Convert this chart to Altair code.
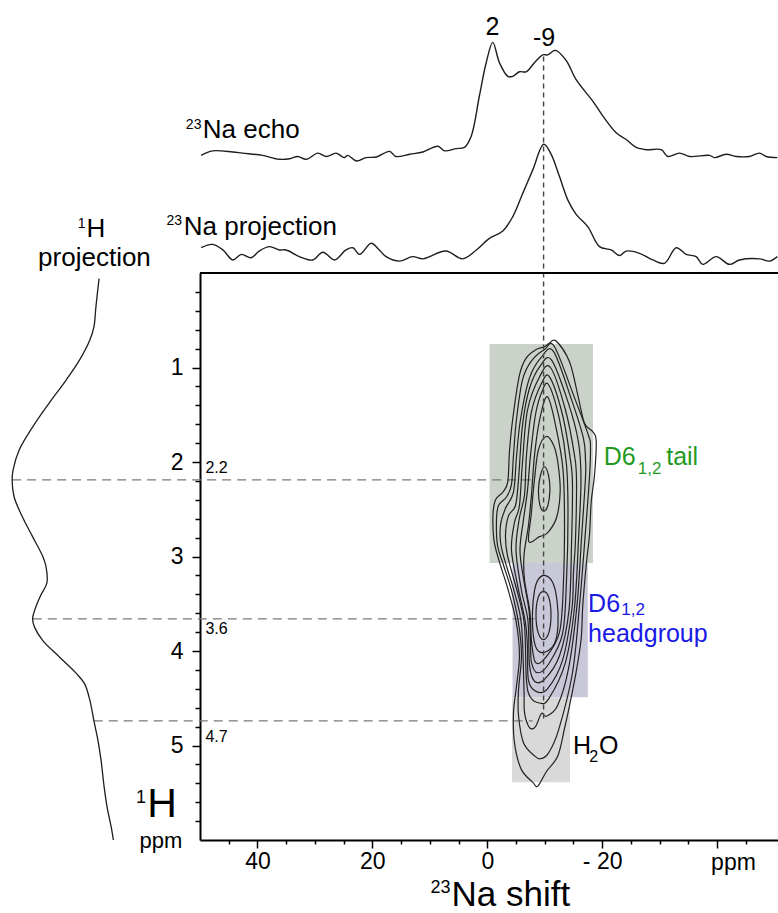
import altair as alt
import pandas as pd

FONT = "Liberation Sans"

# ---------------- data ----------------
# 23Na echo spectrum: chemical shift (ppm) and normalised intensity
echo_ppm = [49.8, 47.8, 44.3, 42.6, 39.1, 36.2, 34.4, 33.0, 31.5, 29.5, 28.0, 26.3, 24.9, 24.3, 22.8,
            21.1, 19.3, 17.0, 15.9, 13.5, 11.2, 8.6, 7.45, 5.4, 4.0, 2.8, 1.36, 0.19, -0.96, -2.12,
            -3.57, -4.44, -5.6, -6.77, -8.2, -9.66, -10.53, -11.87, -13.73, -15.47, -18.36, -20.1,
            -22.44, -24.18, -25.92, -27.66, -30.27, -31.42, -33.46, -35.2, -38.68, -39.55, -41.58,
            -43.32, -45.64, -47.38, -48.55, -50.5]
echo_int = [0.00, 0.04, 0.03, 0.02, 0.00, -0.035, -0.03, -0.01, -0.035, 0.02, -0.01, 0.02, -0.02, 0.00,
            -0.05, -0.02, -0.015, 0.035, -0.01, 0.01, 0.03, 0.08, 0.04, 0.06, 0.07, 0.17, 0.53, 0.82,
            1.00, 0.82, 0.70, 0.70, 0.74, 0.74, 0.82, 0.89, 0.89, 0.93, 0.84, 0.67, 0.48, 0.35, 0.20,
            0.14, 0.07, 0.05, 0.05, -0.01, 0.02, -0.01, 0.00, -0.02, 0.01, -0.01, -0.01, 0.02, -0.01, -0.02]

# 23Na projection of the 2D spectrum
proj_ppm = [49.8, 47.8, 46.0, 44.3, 42.8, 41.1, 39.7, 37.9, 36.2, 35.0, 32.7, 30.4, 28.6, 26.6, 24.6,
            23.4, 22.2, 20.2, 18.8, 17.6, 15.3, 13.0, 11.2, 7.2, 4.3, 1.9, -0.26, -2.7, -4.44, -6.18,
            -7.92, -9.83, -11.12, -12.57, -14.01, -15.47, -17.49, -19.53, -21.57, -23.01, -24.18,
            -26.49, -28.81, -30.84, -32.88, -34.62, -36.36, -37.51, -39.84, -42.16, -43.9, -47.38,
            -49.12, -50.5]
proj_int = [0.07, 0.10, 0.05, -0.04, 0.01, -0.02, 0.04, 0.08, 0.05, 0.05, -0.01, -0.04, 0.03, -0.04,
            0.05, 0.07, 0.01, 0.11, 0.05, -0.01, -0.05, -0.01, -0.03, 0.04, -0.03, 0.05, 0.15, 0.22,
            0.35, 0.56, 0.77, 1.00, 0.91, 0.71, 0.50, 0.37, 0.26, 0.08, 0.05, 0.00, 0.04, 0.02, -0.04,
            -0.07, 0.07, 0.01, -0.01, -0.08, -0.01, -0.08, -0.04, -0.03, -0.05, -0.01]

# 1H projection: 1H shift (ppm) and normalised intensity
h_ppm = [0.06, 0.35, 0.57, 0.71, 0.92, 1.13, 1.38, 1.63, 1.87, 2.08, 2.19, 2.37, 2.58, 2.79, 3.00,
         3.10, 3.28, 3.41, 3.57, 3.66, 3.75, 3.89, 4.06, 4.24, 4.35, 4.52, 4.74, 4.95, 5.16, 5.44,
         5.66, 5.87, 6.0]
h_int = [0.15, 0.18, 0.20, 0.24, 0.34, 0.47, 0.64, 0.80, 0.93, 0.99, 1.00, 0.98, 0.90, 0.80, 0.70,
         0.67, 0.66, 0.72, 0.78, 0.80, 0.78, 0.70, 0.54, 0.37, 0.29, 0.24, 0.20, 0.16, 0.13, 0.10,
         0.07, 0.03, 0.01]

# marked 1H positions, their labels and the extent of the dashed guides (23Na ppm)
h_marks = [2.19, 3.66, 4.74]
h_mark_labels = ["2.2", "3.6", "4.7"]
h_mark_from = [82.7, 79.1, 68.5]
h_mark_to = [-8.6, -8.2, -7.9]
# marked 23Na position and the extent of its guide (1H ppm)
na_mark = -9.8
na_mark_from = -2.29
na_mark_to = 4.74

# assignment regions (23Na ppm range, 1H ppm range)
region_names = ["D6 tail", "D6 headgroup", "H2O"]
region_na1 = [-0.4, -4.4, -4.3]
region_na2 = [-18.4, -17.5, -14.4]
region_h1 = [0.75, 3.07, 4.49]
region_h2 = [3.07, 4.49, 5.39]
region_fill = ["#cad2c9", "#c8c8d9", "#d9d9d9"]

# 2D contour lines (23Na ppm, 1H ppm)
c1a_x = [-9.96, -10.65, -10.9, -10.55, -9.87, -9.17, -8.91, -9.26]
c1a_y = [2.05, 2.14, 2.30, 2.46, 2.52, 2.46, 2.30, 2.14]
c1b_x = [-9.78, -10.74, -11.09, -10.74, -9.78, -8.83, -8.48, -8.83]
c1b_y = [3.37, 3.44, 3.62, 3.80, 3.88, 3.80, 3.62, 3.44]
c2a_x = [-10.25, -11.52, -12.27, -12.69, -12.05, -10.48, -9.09, -7.22, -7.64, -8.22, -8.91]
c2a_y = [1.73, 1.82, 2.00, 2.31, 2.59, 2.75, 2.79, 2.84, 2.56, 2.18, 1.87]
c2b_x = [-9.96, -11.35, -12.13, -12.31, -11.70, -10.13, -8.74, -8.04, -7.87, -8.22, -8.91]
c2b_y = [3.20, 3.27, 3.46, 3.73, 3.92, 4.01, 3.99, 3.85, 3.59, 3.36, 3.24]
c3_x = [-10.48, -12.05, -13.18, -13.44, -13.26, -12.57, -10.13, -8.39, -7.69, -7.43, -6.48, -6.39,
        -7.17, -7.69, -8.22, -9.09]
c3_y = [1.31, 1.66, 2.08, 2.59, 3.27, 3.80, 4.07, 4.12, 3.89, 3.59, 3.25, 2.99, 2.67, 2.35, 1.93, 1.56]
c4_x = [-10.65, -12.57, -13.79, -14.05, -13.79, -13.09, -10.65, -8.74, -7.69, -7.52, -7.26, -6.30,
        -5.69, -6.30, -7.00, -7.52, -8.39, -9.43]
c4_y = [1.18, 1.55, 2.03, 2.56, 3.25, 3.82, 4.14, 4.23, 4.12, 3.89, 3.57, 3.23, 2.93, 2.61, 2.30,
        1.93, 1.50, 1.27]
c5_x = [-10.83, -13.09, -14.48, -14.83, -14.66, -14.22, -12.57, -9.96, -8.22, -7.35, -7.08, -5.95,
        -5.00, -5.60, -6.48, -6.82, -7.69, -9.43]
c5_y = [1.10, 1.50, 1.98, 2.24, 2.88, 3.57, 4.05, 4.30, 4.32, 4.15, 3.68, 3.36, 2.93, 2.59, 2.35,
        1.93, 1.47, 1.17]
c6_x = [-11.00, -13.61, -15.18, -15.53, -15.35, -15.00, -14.74, -13.09, -10.48, -8.56, -7.17, -7.00,
        -6.65, -5.26, -4.21, -4.73, -5.60, -6.13, -7.00, -9.09]
c6_y = [1.00, 1.45, 1.93, 2.19, 2.83, 3.17, 3.55, 4.10, 4.40, 4.43, 4.31, 3.97, 3.70, 3.30, 2.93,
        2.64, 2.46, 2.00, 1.45, 1.10]
c7_x = [-11.17, -14.13, -15.87, -16.31, -15.87, -15.18, -13.61, -10.65, -9.09, -7.52, -6.82, -6.48,
        -5.43, -3.52, -3.17, -3.69, -4.91, -5.43, -6.13, -7.35, -9.26]
c7_y = [0.92, 1.38, 1.79, 2.19, 2.83, 3.54, 4.12, 4.51, 4.55, 4.49, 4.31, 3.73, 3.42, 2.99, 2.77,
        2.57, 2.46, 2.19, 1.61, 1.22, 0.98]
c8_x = [-11.52, -14.66, -16.74, -17.09, -17.09, -16.40, -15.61, -14.13, -12.22, -10.30, -9.43, -8.39,
        -7.35, -6.48, -6.39, -5.95, -4.73, -2.47, -2.30, -3.17, -4.56, -5.08, -5.78, -7.35, -9.43]
c8_y = [0.83, 1.34, 1.75, 1.98, 2.17, 2.81, 3.52, 4.19, 4.58, 4.69, 4.66, 4.80, 4.81, 4.65, 4.40,
        3.72, 3.38, 2.91, 2.67, 2.49, 2.32, 1.95, 1.55, 1.11, 0.89]
c9_x = [-11.70, -15.18, -17.62, -17.96, -17.79, -17.01, -16.05, -14.83, -12.39, -10.65, -9.26, -8.22,
        -6.30, -5.43, -5.43, -5.95, -5.43, -4.21, -2.82, -1.78, -1.60, -1.95, -3.34, -4.21, -4.56,
        -5.08, -6.13, -7.69, -9.96]
c9_y = [0.78, 1.32, 1.72, 1.84, 2.16, 2.80, 3.52, 4.23, 4.84, 5.08, 5.14, 5.11, 4.97, 4.68, 4.42,
        4.05, 3.70, 3.36, 3.09, 2.88, 2.62, 2.46, 2.37, 2.24, 1.93, 1.55, 1.13, 0.93, 0.81]
c10_x = [-11.99, -14.31, -15.75, -16.92, -18.36, -18.96, -18.66, -18.09, -17.79, -17.22, -16.62,
         -16.34, -15.47, -14.31, -13.44, -12.27, -10.25, -8.79, -7.92, -5.90, -4.73, -4.56, -5.03,
         -5.60, -5.03, -3.57, -2.12, -1.17, -0.99, -1.43, -2.70, -3.57, -3.86, -4.44, -5.60, -6.77,
         -8.51, -9.96, -10.83]
c10_y = [0.72, 0.94, 1.29, 1.59, 1.68, 1.78, 2.14, 2.42, 2.77, 3.09, 3.52, 3.87, 4.22, 4.58, 4.82,
         5.11, 5.28, 5.43, 5.39, 5.25, 4.97, 4.65, 4.40, 4.05, 3.69, 3.34, 3.06, 2.83, 2.56, 2.40,
         2.32, 2.21, 1.89, 1.54, 1.08, 0.90, 0.81, 0.78, 0.74]

# axis ticks
x_major = [40, 20, 0, -20, -40]
x_minor = [45, 35, 30, 25, 15, 10, 5, -5, -10, -15, -25, -30, -35, -45]
y_major = [1, 2, 3, 4, 5]
y_minor = [0.2, 0.4, 0.6, 0.8, 1.2, 1.4, 1.6, 1.8, 2.2, 2.4, 2.6, 2.8, 3.2, 3.4, 3.6, 3.8,
           4.2, 4.4, 4.6, 4.8, 5.2, 5.4, 5.6, 5.8]

# ---------------- tables ----------------
echo_df = pd.DataFrame({"ppm": echo_ppm, "I": echo_int})
proj_df = pd.DataFrame({"ppm": proj_ppm, "I": proj_int})
h_df = pd.DataFrame({"h": h_ppm, "I": h_int})
hl_df = pd.DataFrame({"y": h_marks, "x1": h_mark_from, "x2": h_mark_to})
vl_df = pd.DataFrame({"x": [na_mark], "y1": [na_mark_from], "y2": [na_mark_to]})
box_df = pd.DataFrame({"name": region_names, "x1": region_na1, "x2": region_na2,
                       "y1": region_h1, "y2": region_h2, "fill": region_fill})
contour_sets = [("1a", c1a_x, c1a_y), ("1b", c1b_x, c1b_y), ("2a", c2a_x, c2a_y),
                ("2b", c2b_x, c2b_y), ("3", c3_x, c3_y), ("4", c4_x, c4_y), ("5", c5_x, c5_y),
                ("6", c6_x, c6_y), ("7", c7_x, c7_y), ("8", c8_x, c8_y), ("9", c9_x, c9_y),
                ("10", c10_x, c10_y)]
rows = []
for cid, xs_, ys_ in contour_sets:
    for i, (a, b) in enumerate(zip(xs_, ys_)):
        rows.append({"cid": cid, "i": i, "x": a, "y": b})
cont_df = pd.DataFrame(rows)

# text annotations: text, 23Na ppm, 1H ppm, font size, colour, alignment
BLACK, GREEN, BLUE = "#000000", "#1f9a1f", "#1a1ae6"
ann = [
    ("2", -0.89, -2.517, 25, BLACK, "center"),
    ("-9", -9.89, -2.401, 25, BLACK, "center"),
    ("23", 49.75, -1.521, 14, BLACK, "right"),
    ("Na echo", 49.52, -1.433, 26, BLACK, "left"),
    ("23", 53.14, -0.503, 14, BLACK, "right"),
    ("Na projection", 52.83, -0.407, 26, BLACK, "left"),
    ("1", 69.94, -0.481, 14, BLACK, "right"),
    ("H", 69.77, -0.386, 26, BLACK, "left"),
    ("projection", 68.37, -0.071, 26, BLACK, "center"),
    ("D6", -20.28, 2.032, 25, GREEN, "left"),
    ("1,2", -26.20, 2.127, 17, GREEN, "left"),
    ("tail", -31.14, 2.032, 25, GREEN, "left"),
    ("D6", -17.55, 3.587, 25, BLUE, "left"),
    ("1,2", -23.31, 3.615, 17, BLUE, "left"),
    ("headgroup", -17.55, 3.9, 25, BLUE, "left"),
    ("H", -14.9, 5.085, 25, BLACK, "left"),
    ("2", -17.75, 5.178, 16, BLACK, "left"),
    ("O", -19.45, 5.085, 25, BLACK, "left"),
    (h_mark_labels[0], 49.05, 2.112, 16, BLACK, "left"),
    (h_mark_labels[1], 49.05, 3.824, 16, BLACK, "left"),
    (h_mark_labels[2], 49.05, 4.966, 16, BLACK, "left"),
    ("23", 6.41, 6.56, 18, BLACK, "right"),
    ("Na shift", 6.23, 6.698, 35, BLACK, "left"),
    ("1", 59.4, 5.61, 18, BLACK, "right"),
    ("H", 59.2, 5.76, 41, BLACK, "left"),
    ("ppm", 56.8, 6.085, 22, BLACK, "center"),
    ("ppm", -42.85, 6.316, 23, BLACK, "center"),
]
ann_df = pd.DataFrame(ann, columns=["txt", "x", "y", "fs", "col", "al"])

# ---------------- chart ----------------
W, H = 578, 567
xs = alt.Scale(domain=[-50.6, 50], reverse=True, nice=False, zero=False)
ys = alt.Scale(domain=[0, 6], reverse=True, nice=False, zero=False)


def X(f):
    return alt.X(f, type="quantitative", scale=xs, axis=None)


def Y(f):
    return alt.Y(f, type="quantitative", scale=ys, axis=None)


boxes = alt.Chart(box_df).mark_rect(clip=False).encode(
    x=X("x1"), x2="x2", y=Y("y1"), y2="y2", color=alt.Color("fill:N", scale=None))

hlines = alt.Chart(hl_df).mark_rule(strokeDash=[9, 6], color="#7a7a7a", strokeWidth=1.2,
                                    clip=False).encode(x=X("x1"), x2="x2", y=Y("y"))

vline = alt.Chart(vl_df).mark_rule(strokeDash=[5, 4], color="#444444", strokeWidth=1.4,
                                   clip=False).encode(x=X("x"), y=Y("y1"), y2="y2")

contours = alt.Chart(cont_df).mark_line(interpolate="cardinal-closed", color="#222222",
                                        strokeWidth=1.2, clip=False).encode(
    x=X("x"), y=Y("y"), detail="cid:N", order="i:Q")

echo = alt.Chart(echo_df).transform_calculate(yy="-1.245 - 1.195 * datum.I").mark_line(
    color="#1e1e1e", strokeWidth=1.4, clip=False, interpolate="catmull-rom").encode(
    x=X("ppm"), y=Y("yy"), order="ppm:Q")

proj = alt.Chart(proj_df).transform_calculate(yy="-0.185 - 1.177 * datum.I").mark_line(
    color="#1e1e1e", strokeWidth=1.4, clip=False, interpolate="catmull-rom").encode(
    x=X("ppm"), y=Y("yy"), order="ppm:Q")

hproj = alt.Chart(h_df).transform_calculate(xx="64.9 + 17.8 * datum.I").mark_line(
    color="#1e1e1e", strokeWidth=1.3, clip=False, interpolate="catmull-rom").encode(
    x=X("xx"), y=Y("h"), order="h:Q")

top_border = alt.Chart(pd.DataFrame({"a": [0]})).mark_rule(color="black", strokeWidth=2).encode(
    x=alt.value(0), x2=alt.value(W), y=alt.value(0))

axis_common = dict(tickColor="black", tickWidth=1.5, domainColor="black", domainWidth=2,
                   labelFont=FONT, labelColor="black", grid=False, title=None)

ax_major = alt.Chart(pd.DataFrame({"x": [0.0], "y": [0.0]})).mark_point(opacity=0).encode(
    x=alt.X("x:Q", scale=xs, axis=alt.Axis(
        values=x_major, orient="bottom", tickSize=8, labelFontSize=23, labelPadding=2,
        labelFlush=False, labelOverlap=False,
        labelExpr="datum.value == -20 ? '- 20' : (datum.value == -40 ? '' : datum.label)",
        **axis_common)),
    y=alt.Y("y:Q", scale=ys, axis=alt.Axis(
        values=y_major, orient="left", tickSize=8, labelFontSize=23, labelPadding=9,
        labelFlush=False, labelOverlap=False, **axis_common)))

ax_minor = alt.Chart(pd.DataFrame({"x": [0.0], "y": [0.0]})).mark_point(opacity=0).encode(
    x=alt.X("x:Q", scale=xs, axis=alt.Axis(
        values=x_minor, orient="bottom", tickSize=4, labels=False, domain=False, **axis_common)),
    y=alt.Y("y:Q", scale=ys, axis=alt.Axis(
        values=y_minor, orient="left", tickSize=5, labels=False, domain=False, **axis_common)))


def text_layer(al):
    return alt.Chart(ann_df).transform_filter(f"datum.al == '{al}'").mark_text(
        align=al, baseline="alphabetic", font=FONT).encode(
        x=X("x"), y=Y("y"), text="txt:N",
        size=alt.Size("fs:Q", scale=None), color=alt.Color("col:N", scale=None))


chart = alt.layer(
    boxes, hlines, contours, vline, echo, proj, hproj, top_border, ax_minor, ax_major,
    text_layer("left"), text_layer("right"), text_layer("center")
).resolve_axis(x="independent", y="independent").properties(
    width=W, height=H,
    padding={"left": 200, "top": 273, "right": 0, "bottom": 73},
    autosize=alt.AutoSizeParams(type="none"),
).configure_view(stroke=None)

chart.save("out.html", embed_options={"renderer": "svg", "actions": False})
